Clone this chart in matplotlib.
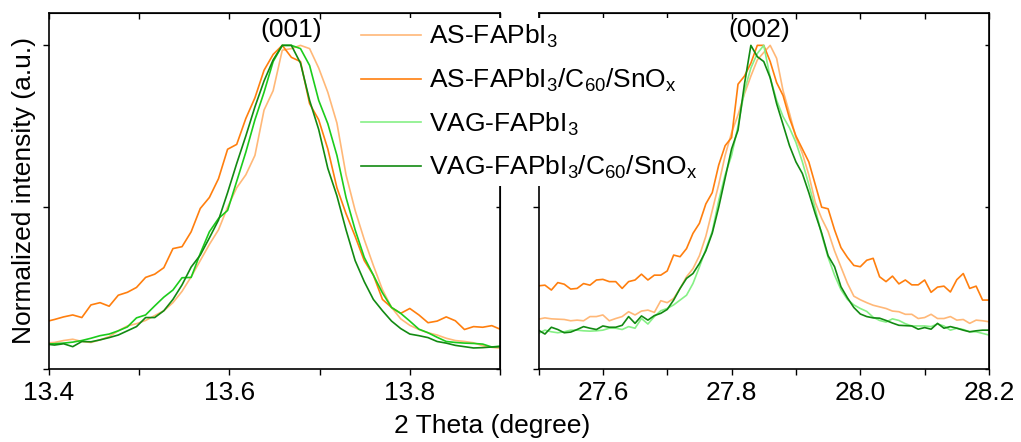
import numpy as np
import matplotlib
matplotlib.use("Agg")
import matplotlib.pyplot as plt
from matplotlib.ticker import MultipleLocator

plt.rcParams['font.family'] = ['Liberation Sans', 'DejaVu Sans']
plt.rcParams['mathtext.fontset'] = 'custom'
plt.rcParams['mathtext.rm'] = 'Liberation Sans'
plt.rcParams['mathtext.it'] = 'Liberation Sans'
plt.rcParams['font.size'] = 19

# scan grids (start, step) for the two 2-theta windows
LEFT_START, LEFT_STEP, LEFT_N = 13.396, 0.0101, 51
RIGHT_START, RIGHT_STEP, RIGHT_N = 27.500, 0.0100, 71

labels = ['AS-FAPbI$_3$', 'AS-FAPbI$_3$/C$_{60}$/SnO$_x$',
          'VAG-FAPbI$_3$', 'VAG-FAPbI$_3$/C$_{60}$/SnO$_x$']

# (001) peak, normalized intensity
as_001 = [0.080, 0.082, 0.088, 0.092, 0.085, 0.082, 0.090, 0.100, 0.118, 0.133,
          0.140, 0.150, 0.165, 0.180, 0.205, 0.240, 0.285, 0.335, 0.385, 0.430,
          0.500, 0.560, 0.600, 0.660, 0.800, 0.860, 0.985, 0.990, 1.000, 0.990,
          0.930, 0.855, 0.760, 0.600, 0.490, 0.400, 0.320, 0.245, 0.190, 0.155,
          0.135, 0.122, 0.112, 0.105, 0.095, 0.088, 0.085, 0.081, 0.072, 0.067,
          0.064]
as_c60_001 = [0.146, 0.153, 0.161, 0.167, 0.159, 0.198, 0.205, 0.194, 0.228, 0.237,
              0.252, 0.283, 0.293, 0.313, 0.372, 0.378, 0.424, 0.496, 0.530, 0.588,
              0.679, 0.694, 0.774, 0.838, 0.923, 0.972, 1.000, 0.963, 0.950, 0.820,
              0.770, 0.680, 0.560, 0.480, 0.410, 0.335, 0.290, 0.215, 0.190, 0.172,
              0.187, 0.167, 0.143, 0.148, 0.161, 0.149, 0.122, 0.131, 0.129, 0.134,
              0.122]
vag_001 = [0.077, 0.078, 0.080, 0.083, 0.088, 0.095, 0.103, 0.108, 0.118, 0.130,
           0.158, 0.167, 0.195, 0.222, 0.244, 0.282, 0.283, 0.357, 0.424, 0.465,
           0.490, 0.580, 0.670, 0.770, 0.855, 0.950, 1.000, 1.000, 0.990, 0.938,
           0.830, 0.758, 0.660, 0.530, 0.430, 0.345, 0.290, 0.235, 0.190, 0.172,
           0.148, 0.123, 0.112, 0.098, 0.085, 0.082, 0.080, 0.079, 0.077, 0.068,
           0.071]
vag_c60_001 = [0.077, 0.074, 0.078, 0.069, 0.085, 0.084, 0.090, 0.097, 0.105, 0.118,
               0.131, 0.159, 0.159, 0.180, 0.215, 0.260, 0.315, 0.352, 0.405, 0.460,
               0.545, 0.635, 0.720, 0.810, 0.890, 0.955, 1.000, 1.000, 0.945, 0.830,
               0.740, 0.620, 0.535, 0.430, 0.335, 0.270, 0.215, 0.180, 0.148, 0.125,
               0.108, 0.103, 0.097, 0.085, 0.080, 0.073, 0.069, 0.065, 0.066, 0.068,
               0.069]

# (002) peak, normalized intensity
as_002 = [0.154, 0.158, 0.155, 0.154, 0.153, 0.149, 0.151, 0.149, 0.162, 0.162,
          0.167, 0.149, 0.156, 0.162, 0.177, 0.167, 0.179, 0.182, 0.175, 0.211,
          0.205, 0.218, 0.249, 0.285, 0.310, 0.350, 0.410, 0.490, 0.570, 0.660,
          0.730, 0.785, 0.850, 0.905, 0.955, 0.978, 1.000, 0.960, 0.860, 0.790,
          0.715, 0.666, 0.600, 0.515, 0.465, 0.425, 0.365, 0.315, 0.265, 0.225,
          0.214, 0.205, 0.197, 0.192, 0.187, 0.179, 0.177, 0.169, 0.169, 0.156,
          0.159, 0.169, 0.156, 0.156, 0.162, 0.151, 0.153, 0.141, 0.151, 0.149,
          0.146]
as_c60_002 = [0.257, 0.259, 0.244, 0.267, 0.262, 0.247, 0.249, 0.264, 0.259, 0.275,
              0.277, 0.270, 0.270, 0.249, 0.270, 0.275, 0.293, 0.275, 0.290, 0.290,
              0.303, 0.352, 0.347, 0.372, 0.419, 0.450, 0.510, 0.545, 0.630, 0.690,
              0.715, 0.880, 0.905, 0.945, 1.000, 1.000, 0.950, 0.885, 0.845, 0.775,
              0.720, 0.680, 0.640, 0.570, 0.500, 0.495, 0.430, 0.375, 0.345, 0.320,
              0.316, 0.336, 0.342, 0.285, 0.270, 0.287, 0.263, 0.275, 0.260, 0.260,
              0.275, 0.237, 0.253, 0.256, 0.238, 0.276, 0.295, 0.249, 0.256, 0.213,
              0.213]
vag_002 = [0.110, 0.120, 0.115, 0.112, 0.115, 0.120, 0.120, 0.118, 0.117, 0.118,
           0.120, 0.126, 0.126, 0.122, 0.131, 0.126, 0.156, 0.139, 0.162, 0.180,
           0.187, 0.198, 0.213, 0.228, 0.264, 0.315, 0.370, 0.425, 0.520, 0.600,
           0.660, 0.750, 0.860, 0.930, 0.975, 1.000, 0.900, 0.830, 0.780, 0.745,
           0.700, 0.640, 0.570, 0.495, 0.415, 0.345, 0.290, 0.245, 0.215, 0.198,
           0.187, 0.178, 0.160, 0.150, 0.145, 0.155, 0.150, 0.140, 0.133, 0.133,
           0.133, 0.131, 0.139, 0.133, 0.120, 0.126, 0.122, 0.115, 0.115, 0.110,
           0.105]
vag_c60_002 = [0.120, 0.108, 0.129, 0.122, 0.112, 0.114, 0.122, 0.131, 0.126, 0.122,
               0.133, 0.129, 0.129, 0.135, 0.162, 0.141, 0.164, 0.151, 0.165, 0.172,
               0.184, 0.213, 0.249, 0.280, 0.295, 0.326, 0.365, 0.420, 0.500, 0.590,
               0.680, 0.738, 0.880, 1.000, 0.965, 0.950, 0.900, 0.820, 0.755, 0.690,
               0.640, 0.604, 0.545, 0.480, 0.420, 0.350, 0.316, 0.254, 0.220, 0.190,
               0.170, 0.162, 0.158, 0.157, 0.150, 0.142, 0.135, 0.134, 0.133, 0.123,
               0.128, 0.123, 0.141, 0.126, 0.131, 0.126, 0.120, 0.115, 0.118, 0.120,
               0.120]

colors_left = ['#ffb878', '#ff7f0e', '#1ccc1c', '#128a12']
colors_right = ['#ffb878', '#ff7f0e', '#86f086', '#128a12']

x_left = LEFT_START + LEFT_STEP * np.arange(LEFT_N)
x_right = RIGHT_START + RIGHT_STEP * np.arange(RIGHT_N)

W, H = 1021, 442
fig = plt.figure(figsize=(W / 100, H / 100), dpi=100)
ax1 = fig.add_axes([49 / W, 73 / H, 451 / W, 356 / H])
ax2 = fig.add_axes([538.5 / W, 73 / H, 450.5 / W, 356 / H])

for ys, c in zip([as_001, as_c60_001, vag_001, vag_c60_001], colors_left):
    ax1.plot(x_left, ys, color=c, lw=1.2)
handles = []
for ys, c, lab in zip([as_002, as_c60_002, vag_002, vag_c60_002], colors_right, labels):
    h, = ax2.plot(x_right, ys, color=c, lw=1.2, label=lab)
    handles.append(h)

ax1.set_xlim(13.4, 13.9)
ax2.set_xlim(27.5, 28.2)
for ax in (ax1, ax2):
    ax.set_ylim(0, 1.1)
    ax.set_yticks([0, 0.5, 1.0])
    ax.set_yticklabels([])
    ax.xaxis.set_major_locator(MultipleLocator(0.2))
    ax.xaxis.set_minor_locator(MultipleLocator(0.1))
    ax.tick_params(axis='x', which='both', direction='out', length=4.5, width=1,
                   top=False)
    ax.tick_params(axis='x', which='major', labelsize=19, pad=4)
    ax.tick_params(axis='y', which='both', direction='out', length=4.5, width=1,
                   right=False)
    # inward ticks on top and right spines
    tx = ax.secondary_xaxis('top')
    tx.xaxis.set_major_locator(MultipleLocator(0.1))
    tx.tick_params(direction='in', length=4, width=1, labeltop=False)
    ty = ax.secondary_yaxis('right')
    ty.set_yticks([0, 0.5, 1.0])
    ty.tick_params(direction='in', length=3, width=1, labelright=False)
    for s in ax.spines.values():
        s.set_linewidth(1.2)
ax2.set_xticks([27.6, 27.8, 28.0, 28.2])

ax1.set_ylabel('Normalized intensity (a.u.)', fontsize=19, labelpad=1)
ax1.text(13.669, 1.046, '(001)', ha='center', va='center', fontsize=19)
ax2.text(27.843, 1.046, '(002)', ha='center', va='center', fontsize=19)
fig.text(492 / W, 16 / H, '2 Theta (degree)', ha='center', va='center', fontsize=19)

leg = fig.legend(handles=handles, loc='upper left',
                 bbox_to_anchor=(356 / W, 1 - 18 / H), frameon=True,
                 fontsize=19, handlelength=2.25, handletextpad=0.3,
                 labelspacing=0.62, borderpad=0.2, borderaxespad=0)
leg.get_frame().set_facecolor('white')
leg.get_frame().set_edgecolor('none')
leg.get_frame().set_alpha(1)

fig.savefig('out.png', dpi=100)
